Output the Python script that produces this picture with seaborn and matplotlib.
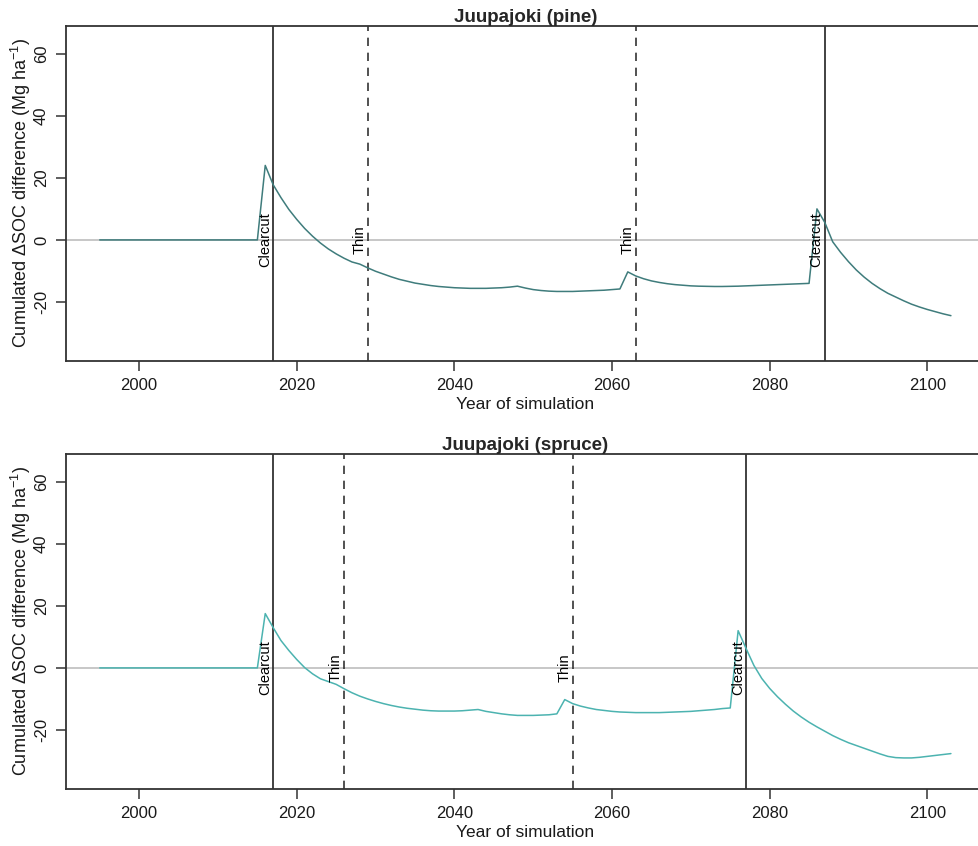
import numpy as np
import pandas as pd
import matplotlib
matplotlib.use("Agg")
import matplotlib.pyplot as plt
import seaborn as sns

# data (one value per year)
years = list(range(1995, 2104))

pine_soc = [0.0] * 21 + [
    24.0, 17.8, 13.6, 9.8, 6.6, 3.7, 1.2, -1.0, -2.9, -4.5,          # 2016-2025
    -5.9, -7.1, -7.8, -9.0, -10.1, -11.0, -11.9, -12.7, -13.3, -13.9,  # 2026-2035
    -14.3, -14.7, -15.0, -15.2, -15.4, -15.5, -15.6, -15.6, -15.6, -15.5,  # 2036-2045
    -15.4, -15.2, -14.9, -15.5, -16.0, -16.3, -16.5, -16.6, -16.6, -16.6,  # 2046-2055
    -16.5, -16.4, -16.3, -16.2, -16.0, -15.8, -10.3, -11.6, -12.5, -13.2,  # 2056-2065
    -13.7, -14.1, -14.4, -14.6, -14.8, -14.9, -14.95, -15.0, -15.0, -14.95,  # 2066-2075
    -14.9, -14.8, -14.7, -14.6, -14.5, -14.4, -14.3, -14.2, -14.1, -14.0,  # 2076-2085
    10.0, 5.6, -0.6, -4.0, -7.0, -9.7, -12.0, -14.0, -15.7, -17.2,      # 2086-2095
    -18.4, -19.6, -20.7, -21.6, -22.4, -23.1, -23.8, -24.4,             # 2096-2103
]

spruce_soc = [0.0] * 21 + [
    17.5, 13.0, 8.8, 5.6, 2.7, 0.1, -1.9, -3.5, -4.4, -5.3,           # 2016-2025
    -6.7, -8.0, -9.1, -10.0, -10.8, -11.5, -12.1, -12.6, -13.0, -13.3,  # 2026-2035
    -13.6, -13.8, -13.9, -13.9, -13.9, -13.8, -13.6, -13.4, -14.0, -14.4,  # 2036-2045
    -14.8, -15.1, -15.3, -15.3, -15.3, -15.2, -15.1, -14.8, -10.2, -11.5,  # 2046-2055
    -12.3, -12.9, -13.4, -13.7, -14.0, -14.2, -14.3, -14.4, -14.4, -14.4,  # 2056-2065
    -14.4, -14.3, -14.2, -14.1, -14.0, -13.8, -13.6, -13.4, -13.1, -12.9,  # 2066-2075
    12.0, 6.3, 0.8, -3.4, -6.6, -9.3, -11.7, -13.9, -15.8, -17.5,       # 2076-2085
    -19.0, -20.4, -21.8, -23.0, -24.1, -25.0, -25.9, -26.8, -27.7, -28.5,  # 2086-2095
    -28.9, -29.0, -29.0, -28.8, -28.5, -28.2, -27.9, -27.6,             # 2096-2103
]

pine_clearcut = [2017, 2087]
pine_thin = [2029, 2063]
spruce_clearcut = [2017, 2077]
spruce_thin = [2026, 2055]

titles = ["Juupajoki (pine)", "Juupajoki (spruce)"]
line_colors = ["#3f7c7c", "#4cb3b0"]

df_pine = pd.DataFrame({"year": years, "soc": pine_soc})
df_spruce = pd.DataFrame({"year": years, "soc": spruce_soc})

sns.set_style("ticks")
plt.rcParams["font.family"] = ["Liberation Sans", "DejaVu Sans"]
plt.rcParams["mathtext.fontset"] = "custom"
plt.rcParams["mathtext.rm"] = "Liberation Sans"
plt.rcParams["axes.unicode_minus"] = False

fig = plt.figure(figsize=(9.79, 8.46), dpi=100)
ax1 = fig.add_axes([0.0671, 0.5733, 0.939, 0.3963])
ax2 = fig.add_axes([0.0671, 0.0674, 0.939, 0.3963])

panels = [
    (ax1, df_pine, pine_clearcut, pine_thin, titles[0], line_colors[0]),
    (ax2, df_spruce, spruce_clearcut, spruce_thin, titles[1], line_colors[1]),
]

for ax, d, cc, th, title, col in panels:
    ax.axhline(0, color="#bdbdbd", lw=1.2, zorder=1)
    sns.lineplot(data=d, x="year", y="soc", ax=ax, color=col, lw=1.1, zorder=3)
    for x in cc:
        ax.axvline(x, color="#333333", lw=1.3, zorder=2)
        ax.text(x - 0.15, 0, "Clearcut", rotation=90, ha="right", va="center",
                fontsize=10.5, color="black", zorder=4)
    for x in th:
        ax.axvline(x, color="#333333", lw=1.2, ls=(0, (5, 4)), zorder=2)
        ax.text(x - 0.15, 0, "Thin", rotation=90, ha="right", va="center",
                fontsize=10.5, color="black", zorder=4)

    ax.set_xlim(1990.68, 2107.32)
    ax.set_ylim(-39, 69)
    ax.set_xticks([2000, 2020, 2040, 2060, 2080, 2100])
    ax.set_yticks([-20, 0, 20, 40, 60])
    ax.tick_params(axis="both", direction="out", length=7, width=1.1,
                   color="#333333", labelsize=12, pad=5, labelcolor="#1a1a1a")
    for lab in ax.get_yticklabels():
        lab.set_rotation(90)
        lab.set_va("center")
    for s in ax.spines.values():
        s.set_color("#333333")
        s.set_linewidth(1.3)
    ax.set_xlabel("Year of simulation", fontsize=12.5, labelpad=3, color="#1a1a1a")
    ax.set_ylabel(r"Cumulated $\Delta$SOC difference (Mg ha$^{-1}$)", fontsize=13,
                  labelpad=1, color="#1a1a1a")
    ax.set_title(title, fontsize=13.5, fontweight="bold", pad=2)

plt.savefig("out.png", dpi=100)
